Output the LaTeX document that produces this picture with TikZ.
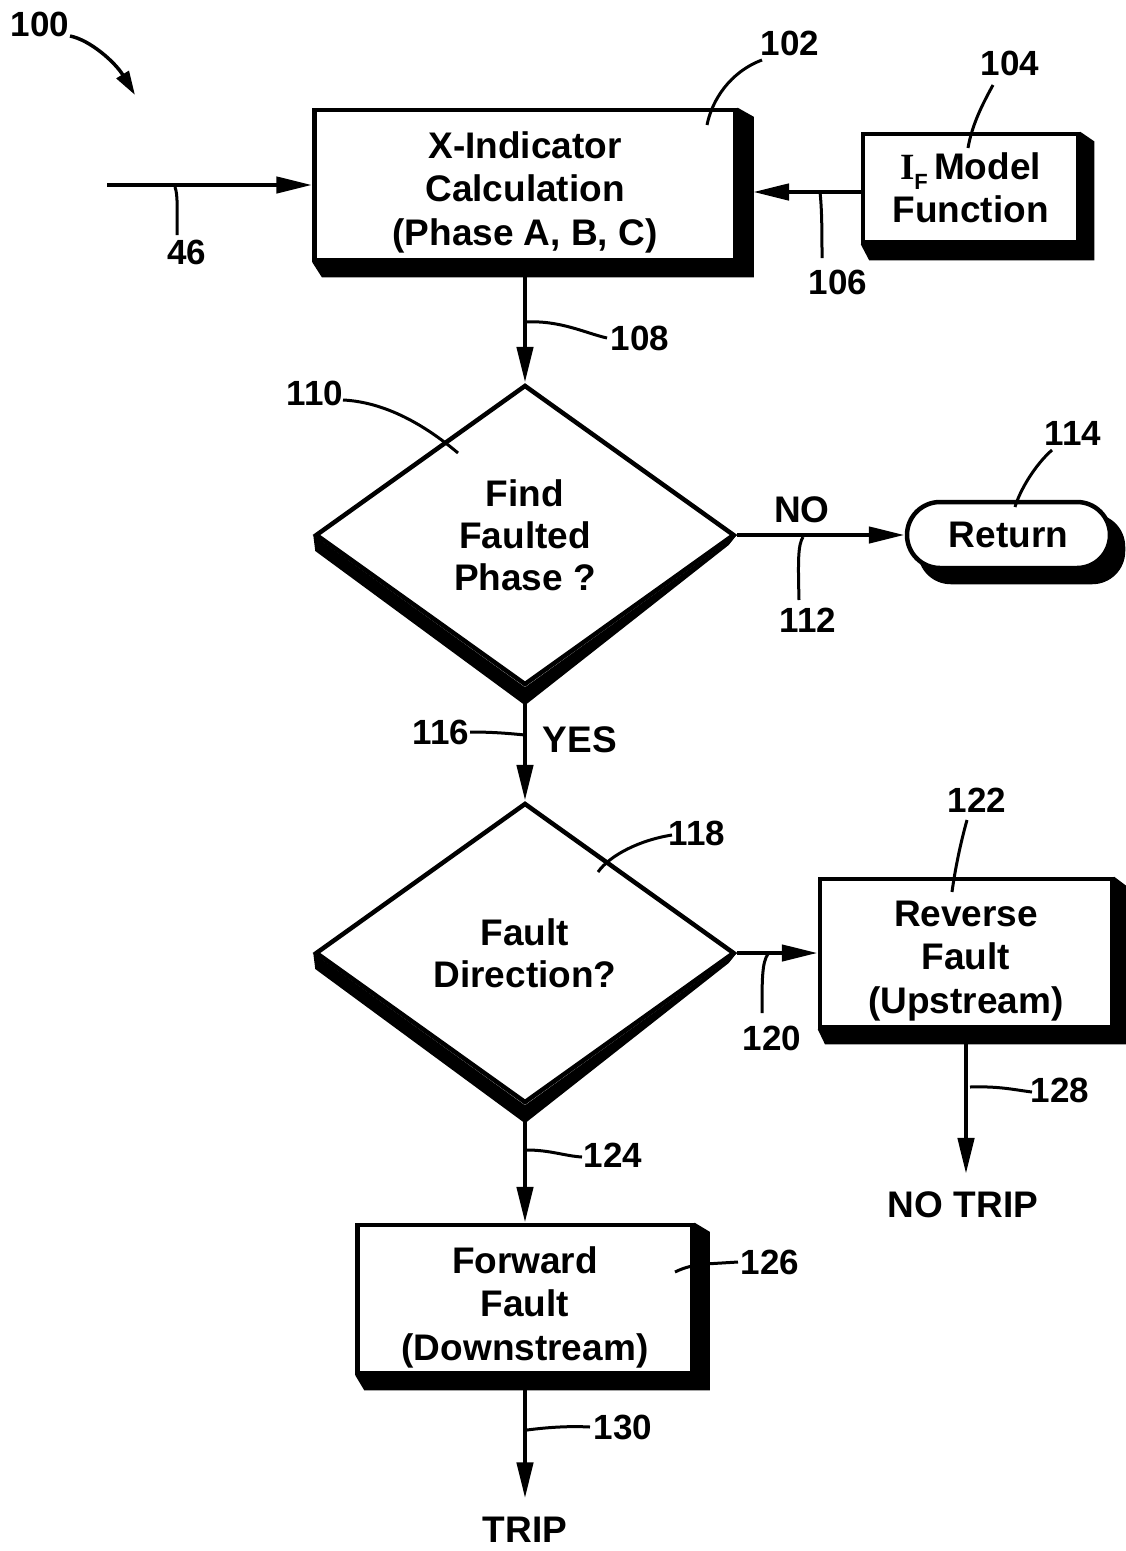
\documentclass[tikz,border=0pt]{standalone}
\usepackage{fontspec}
\setmainfont{Liberation Sans}
\newfontfamily\myserif{Liberation Serif}
\usetikzlibrary{arrows.meta,calc,shapes.geometric,backgrounds}
\newcommand\bigtxt{\fontsize{37}{43.5}\selectfont\bfseries}
\newcommand\diatxt{\fontsize{37}{42}\selectfont\bfseries}
\newcommand\numtxt{\fontsize{35}{35}\selectfont\bfseries}
\newcommand\myshadow[3]{%
  \fill[black] (#1.north east) -- ($(#1.north east)+(#2,#3*0.6)$) -- ($(#1.south east)+(#2,#3)$) -- ($(#1.south west)+(#2*0.6,#3)$) -- (#1.south west) -- cycle;}
\newcommand\diashadow[1]{%
  \fill[black] (#1.west) -- (#1.south) -- (#1.east) -- ($(#1.east)+(-8,10)$) -- ($(#1.south)+(0,18)$) -- ($(#1.west)+(2,16)$) -- cycle;}
\begin{document}
\begin{tikzpicture}[x=1pt,y=-1pt,
  box/.style={draw, fill=white, line width=4.5pt, rectangle, inner sep=0pt, align=center, font=\bigtxt},
  dia/.style={diamond, draw, fill=white, line width=4.5pt, minimum width=419pt, minimum height=300pt, inner sep=0pt, align=center, font=\diatxt},
  pill/.style={draw, fill=white, line width=4.5pt, rounded corners=33pt, minimum width=203pt, minimum height=66pt, inner sep=0pt, font=\bigtxt},
  lbl/.style={font=\numtxt, inner sep=0pt},
  word/.style={font=\bigtxt, inner sep=0pt},
  flow/.style={line width=4.5pt, -{Triangle[length=36pt,width=16pt]}},
  lead/.style={line width=3pt}
]
\useasboundingbox (0,0) rectangle (1126,1551);

% main blocks
\node[box, minimum width=421pt, minimum height=150pt] (b102) at (525,185) {\rule{0pt}{41pt}X-Indicator\\Calculation\\(Phase A, B, C)};
\node[box, minimum width=215pt, minimum height=108pt] (b104) at (970.5,188) {{\myserif\bfseries I}\raisebox{-10pt}{\fontsize{22}{22}\selectfont F}\,Model\\Function};
\node[dia] (d110) at (525,535) {Find\\Faulted\\Phase ?};
\node[pill] (ret) at (1008.5,535) {Return};
\node[dia] (d118) at (525,953) {Fault\\Direction?};
\node[box, minimum width=292pt, minimum height=148pt] (b122) at (966,953) {\rule{0pt}{41pt}Reverse\\Fault\\(Upstream)};
\node[box, minimum width=335pt, minimum height=148pt] (b126) at (525,1299) {\rule{0pt}{43pt}Forward\\Fault\\(Downstream)};

% shadows
\begin{scope}[on background layer]
  \myshadow{b102}{16}{15}
  \myshadow{b104}{14}{16}
  \myshadow{b122}{12}{15}
  \myshadow{b126}{15}{15}
  \fill[black, rounded corners=33pt] ($(ret.south west)+(13,14)$) rectangle ($(ret.north east)+(13,14)$);
  \diashadow{d110}
  \diashadow{d118}
\end{scope}

% words
\node[word] (no) at (802,510) {NO};
\node[word] (yes) at (580,740) {YES};
\node[word, anchor=base] (notrip) at (963,1217) {NO TRIP};
\node[word, anchor=base] (trip) at (525,1542) {TRIP};

% reference numerals
\node[lbl] (n100) at (40,24) {100};
\node[lbl] (n102) at (790,43) {102};
\node[lbl] (n104) at (1010,63) {104};
\node[lbl] (n106) at (838,282) {106};
\node[lbl] (n46) at (187,252) {46};
\node[lbl] (n108) at (640,338) {108};
\node[lbl] (n110) at (315,393) {110};
\node[lbl] (n112) at (808,620) {112};
\node[lbl] (n114) at (1073,433) {114};
\node[lbl] (n116) at (441,732) {116};
\node[lbl] (n118) at (697,833) {118};
\node[lbl] (n120) at (772,1038) {120};
\node[lbl] (n122) at (977,800) {122};
\node[lbl] (n124) at (613,1155) {124};
\node[lbl] (n126) at (770,1262) {126};
\node[lbl] (n128) at (1060,1090) {128};
\node[lbl] (n130) at (623,1427) {130};

% coordinates
\coordinate (in46) at (107,185);
\coordinate (s102) at (753,192);
\coordinate (t100) at (135,95);

% flow connectors
\draw[flow] (in46) -- (b102.west);
\draw[flow] (b104.west |- s102) -- (s102);
\draw[flow] (b102.south) -- (d110.north);
\draw[flow] (d110.east) -- (ret.west);
\draw[flow] (d110.south) -- (d118.north);
\draw[flow] (d118.east) -- (b122.west);
\draw[flow] (d118.south) -- (b126.north);
\draw[flow, shorten >=17pt] (b122.south) -- (b122.south |- notrip.north);
\draw[flow, shorten >=18pt] (b126.south) -- (b126.south |- trip.north);

% leaders
\draw[line width=3.5pt, -{Triangle[length=24pt,width=14pt]}] (70,36) .. controls (90,40) and (115,62) .. (t100);
\draw[lead] (762,60) .. controls (730,72) and (712,100) .. (707,125);
\draw[lead] (993,85) .. controls (982,105) and (972,125) .. (968,148);
\draw[lead] (820,192) .. controls (822,210) and (822,235) .. (822,258);
\draw[lead] (175,187) .. controls (178,195) and (177,210) .. (177,235);
\draw[lead] (525,322) .. controls (560,320) and (585,333) .. (607,338);
\draw[lead] (343,400) .. controls (385,402) and (425,425) .. (458,453);
\draw[lead] (803,537) .. controls (798,545) and (798,560) .. (799,600);
\draw[lead] (1052,450) .. controls (1035,465) and (1020,490) .. (1015,507);
\draw[lead] (470,732) .. controls (490,732) and (505,733) .. (525,735);
\draw[lead] (672,835) .. controls (640,840) and (610,855) .. (598,872);
\draw[lead] (768,954) .. controls (762,962) and (762,980) .. (762,1013);
\draw[lead] (967,820) .. controls (960,845) and (955,870) .. (952,892);
\draw[lead] (527,1150) .. controls (550,1150) and (565,1156) .. (582,1157);
\draw[lead] (675,1272) .. controls (685,1267) and (695,1265) .. (705,1264) -- (738,1262);
\draw[lead] (970,1087) .. controls (1000,1086) and (1015,1090) .. (1032,1092);
\draw[lead] (527,1430) .. controls (550,1427) and (570,1426) .. (590,1427);
\end{tikzpicture}
\end{document}
